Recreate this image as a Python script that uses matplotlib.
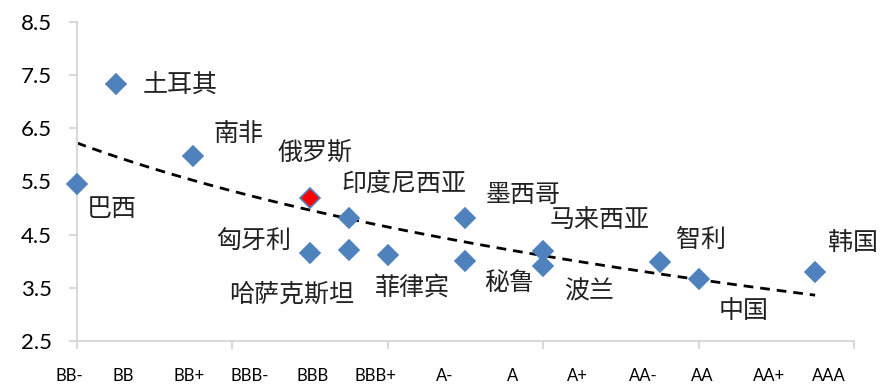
import numpy as np
import matplotlib.pyplot as plt

# ---- data ----
countries = ['巴西', '土耳其', '南非', '俄罗斯', '匈牙利', '印度尼西亚', '哈萨克斯坦',
             '菲律宾', '墨西哥', '秘鲁', '马来西亚', '波兰', '智利', '中国', '韩国']
rating_x = [0, 0.5, 1.5, 3, 3, 3.5, 3.5, 4, 5, 5, 6, 6, 7.5, 8, 9.5]
values = [5.45, 7.33, 5.98, 5.18, 4.15, 4.82, 4.21, 4.11, 4.82, 4.00, 4.19, 3.90, 3.98, 3.66, 3.79]
highlight = '俄罗斯'

ratings = ['BB-', 'BB', 'BB+', 'BBB-', 'BBB', 'BBB+', 'A-', 'A', 'A+', 'AA-', 'AA', 'AA+', 'AAA']
y_ticks = [2.5, 3.5, 4.5, 5.5, 6.5, 7.5, 8.5]

# ---- layout (label offsets in pixels, rating label x positions) ----
label_offsets = {
    '巴西': (35, -25), '土耳其': (65, -2), '南非': (45, 22), '俄罗斯': (5, 46),
    '匈牙利': (-56, 12), '印度尼西亚': (55, 34), '哈萨克斯坦': (-57, -45),
    '菲律宾': (25, -32), '墨西哥': (58, 23), '秘鲁': (44, -22), '马来西亚': (57, 30),
    '波兰': (46, -25), '智利': (41, 22), '中国': (45, -32), '韩国': (38, 29),
}
rating_label_x = [-0.1, 0.6, 1.45, 2.23, 3.03, 3.85, 4.74, 5.61, 6.44, 7.29, 8.05, 8.91, 9.67]
TREND_SHIFT = 5  # log trendline: y = c*ln(x + shift) + d

BLUE = '#4F81BD'
GRID = '#D9D9D9'
TXT = '#222222'
CJK = ['Noto Sans CJK SC', 'DejaVu Sans']

fig = plt.figure(figsize=(8.81, 3.88), dpi=100)
ax = fig.add_axes([76.7 / 881, 1 - 341 / 388, (854 - 76.7) / 881, (341 - 21.7) / 388])

x = np.array(rating_x, dtype=float)
y = np.array(values, dtype=float)

# logarithmic trendline over the data range
coef = np.polyfit(np.log(x + TREND_SHIFT), y, 1)
xs = np.linspace(x.min(), x.max(), 100)
ax.plot(xs, np.polyval(coef, np.log(xs + TREND_SHIFT)), color='black', lw=2,
        ls=(0, (3.5, 2.5)), zorder=2)

for name, xv, yv in zip(countries, x, y):
    fc = 'red' if name == highlight else BLUE
    ax.plot(xv, yv, marker='D', ms=10, mfc=fc, mec=BLUE, mew=1.2, ls='none', zorder=3,
            clip_on=False)
    dx, dy = label_offsets[name]
    ax.annotate(name, (xv, yv), xytext=(dx, dy), textcoords='offset pixels',
                ha='center', va='center', fontsize=18, family=CJK, color=TXT)

ax.set_xlim(0, 10)
ax.set_ylim(2.5, 8.5)
ax.set_xticks(np.arange(0, 11, 2))
ax.set_xticklabels([])
ax.set_yticks(y_ticks)
ax.set_yticklabels([f'{v:.1f}' for v in y_ticks], fontsize=16, family='Lato', color='black')
ax.tick_params(axis='both', color=GRID, width=1.5, length=6, direction='out')
ax.tick_params(axis='y', pad=12)

for s in ['top', 'right']:
    ax.spines[s].set_visible(False)
for s in ['left', 'bottom']:
    ax.spines[s].set_color(GRID)
    ax.spines[s].set_linewidth(1.5)

for lab, lx in zip(ratings, rating_label_x):
    ax.text(lx, -0.11, lab, transform=ax.get_xaxis_transform(), ha='center', va='center',
            fontsize=12, family='Lato', color='black')

fig.savefig('out.png', dpi=100)
